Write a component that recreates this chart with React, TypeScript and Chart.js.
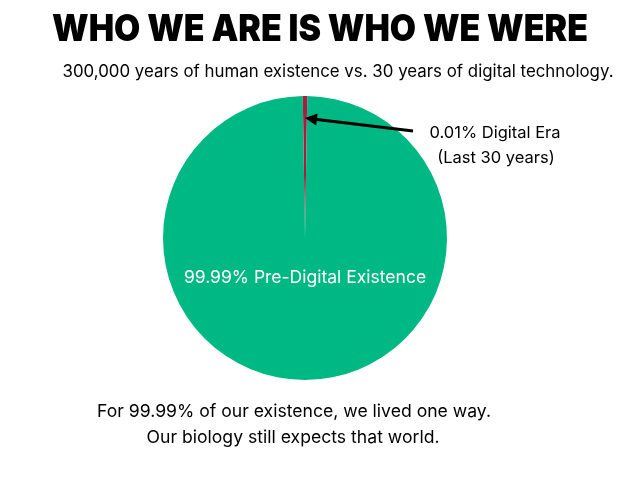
import React, { useEffect, useRef } from "react";
import { Chart, registerables } from "chart.js";

Chart.register(...registerables);

const categories = ["Digital Era", "Pre-Digital Existence"];
const values = [0.5, 99.5];
const colors = ["#b0183f", "#00b884"];
const titleText = "WHO WE ARE IS WHO WE WERE";
const subtitleText = "300,000 years of human existence vs. 30 years of digital technology.";
const digitalLabel = ["0.01% Digital Era", "(Last 30 years)"];
const preDigitalLabel = "99.99% Pre-Digital Existence";
const footerLines = ["For 99.99% of our existence, we lived one way.", "Our biology still expects that world."];

const FONT = "Inter, 'Open Sans', sans-serif";

const textPlugin = {
  id: "textPlugin",
  afterDraw(chart: any) {
    const ctx = chart.ctx;
    const meta = chart.getDatasetMeta(0);
    const red = meta.data[0];
    const green = meta.data[1];
    const cx = green.x;
    const cy = green.y;
    const r = green.outerRadius;
    ctx.save();
    ctx.textAlign = "center";
    ctx.textBaseline = "middle";
    ctx.fillStyle = "#000";
    ctx.font = `900 37px ${FONT}`;
    ctx.fillText(titleText, 320, 30, 536);
    ctx.font = `400 17px ${FONT}`;
    ctx.fillText(subtitleText, 338, 72, 551);

    // annotation
    ctx.font = `400 16.5px ${FONT}`;
    ctx.fillText(digitalLabel[0], 495, 133);
    ctx.fillText(digitalLabel[1], 496, 158);

    const mid = (red.startAngle + red.endAngle) / 2;
    const tipR = r * 0.845;
    const tx = cx + Math.cos(mid) * tipR;
    const ty = cy + Math.sin(mid) * tipR;
    const sx = 413;
    const sy = 131;
    const ang = Math.atan2(ty - sy, tx - sx);
    ctx.strokeStyle = "#000";
    ctx.lineWidth = 3;
    ctx.beginPath();
    ctx.moveTo(sx, sy);
    ctx.lineTo(tx - Math.cos(ang) * 8, ty - Math.sin(ang) * 8);
    ctx.stroke();
    ctx.beginPath();
    ctx.moveTo(tx, ty);
    ctx.lineTo(tx - Math.cos(ang) * 12 + Math.sin(ang) * 6, ty - Math.sin(ang) * 12 - Math.cos(ang) * 6);
    ctx.lineTo(tx - Math.cos(ang) * 12 - Math.sin(ang) * 6, ty - Math.sin(ang) * 12 + Math.cos(ang) * 6);
    ctx.closePath();
    ctx.fillStyle = "#000";
    ctx.fill();

    // inside label
    ctx.fillStyle = "#fff";
    ctx.font = `400 17.5px ${FONT}`;
    ctx.fillText(preDigitalLabel, cx, cy + r * 0.28);

    // footer
    ctx.fillStyle = "#000";
    ctx.font = `400 17.6px ${FONT}`;
    ctx.fillText(footerLines[0], 294, 412);
    ctx.fillText(footerLines[1], 293, 438);
    ctx.restore();
  },
};

export default function App() {
  const ref = useRef<HTMLCanvasElement>(null);
  useEffect(() => {
    document.body.style.margin = "0";
    const redDeg = (values[0] / values.reduce((a, b) => a + b, 0)) * 360;
    const chart = new Chart(ref.current!, {
      type: "pie",
      data: {
        labels: categories,
        datasets: [
          {
            data: values,
            backgroundColor: colors,
            borderWidth: 0,
          },
        ],
      },
      options: {
        animation: false,
        responsive: false,
        rotation: -redDeg / 2,
        layout: { padding: { left: 163, right: 192, top: 96, bottom: 99 } },
        plugins: {
          legend: { display: false },
          tooltip: { enabled: false },
          title: { display: false },
        },
      },
      plugins: [textPlugin],
    });
    return () => chart.destroy();
  }, []);
  return (
    <div style={{ width: 639, height: 479, background: "#fff" }}>
      <canvas ref={ref} width={639} height={479} style={{ display: "block" }} />
    </div>
  );
}
